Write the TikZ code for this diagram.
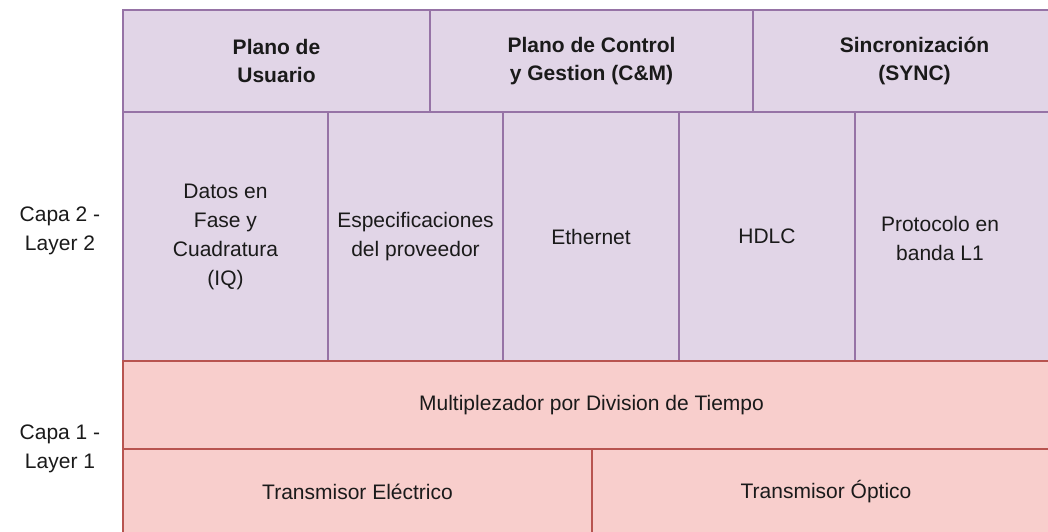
\documentclass[tikz,border=0pt]{standalone}
\usepackage{fontspec}
\setmainfont{Liberation Sans}
\usetikzlibrary{positioning}
\definecolor{planofill}{HTML}{E1D5E7}
\definecolor{planoline}{HTML}{9673A6}
\definecolor{capafill}{HTML}{F8CECC}
\definecolor{capaline}{HTML}{B85450}
\definecolor{texto}{HTML}{1A1A1A}

\begin{document}
\begin{tikzpicture}[x=1pt,y=-1pt]
\tikzstyle{every node}+=[inner sep=0pt,outer sep=0pt,align=center,text=texto,font=\fontsize{21}{29}\selectfont]
\tikzstyle{plano}=[draw=planoline,fill=planofill,line width=1.5pt,anchor=north west]
\tikzstyle{capa}=[draw=capaline,fill=capafill,line width=1.5pt,anchor=north west]
\tikzstyle{titulo}=[font=\fontsize{21}{28}\selectfont\bfseries]
\useasboundingbox (0,0) rectangle (1048,532);
\clip (0,0) rectangle (1048,532);
% planos
\node [plano,titulo,minimum width=307pt,minimum height=102pt] (usuario) at (123,10) {Plano de\\Usuario};
\node [plano,titulo,minimum width=323pt,minimum height=102pt] (control) at (usuario.north east) {Plano de Control\\y Gestion (C\&M)};
\node [plano,titulo,minimum width=323pt,minimum height=102pt] (sync) at (control.north east) {Sincronización\\(SYNC)};
% capa 2
\node [plano,minimum width=205pt,minimum height=249pt] (datos) at (usuario.south west) {Datos en\\Fase y\\Cuadratura\\(IQ)};
\node [plano,minimum width=175pt,minimum height=249pt] (proveedor) at (datos.north east) {Especificaciones\\del proveedor};
\node [plano,minimum width=176pt,minimum height=249pt] (ethernet) at (proveedor.north east) {Ethernet};
\node [plano,minimum width=176pt,minimum height=249pt] (hdlc) at (ethernet.north east) {HDLC};
\node [plano,minimum width=205pt,minimum height=249pt] (banda) at (hdlc.north east) {};
\node (bandatexto) at (940,238) {Protocolo en\\banda L1};
% capa 1
\node [capa,minimum width=937pt,minimum height=88pt] (tdm) at (datos.south west) {Multiplezador por Division de Tiempo};
\node [capa,minimum width=469pt,minimum height=86pt] (electrico) at (tdm.south west) {Transmisor Eléctrico};
\node [capa,minimum width=468pt,minimum height=86pt] (optico) at (electrico.north east) {Transmisor Óptico};
% etiquetas
\node (capados) at (60,231) {Capa 2 -\\Layer 2};
\node (capauno) at (60,449) {Capa 1 -\\Layer 1};
\end{tikzpicture}
\end{document}
